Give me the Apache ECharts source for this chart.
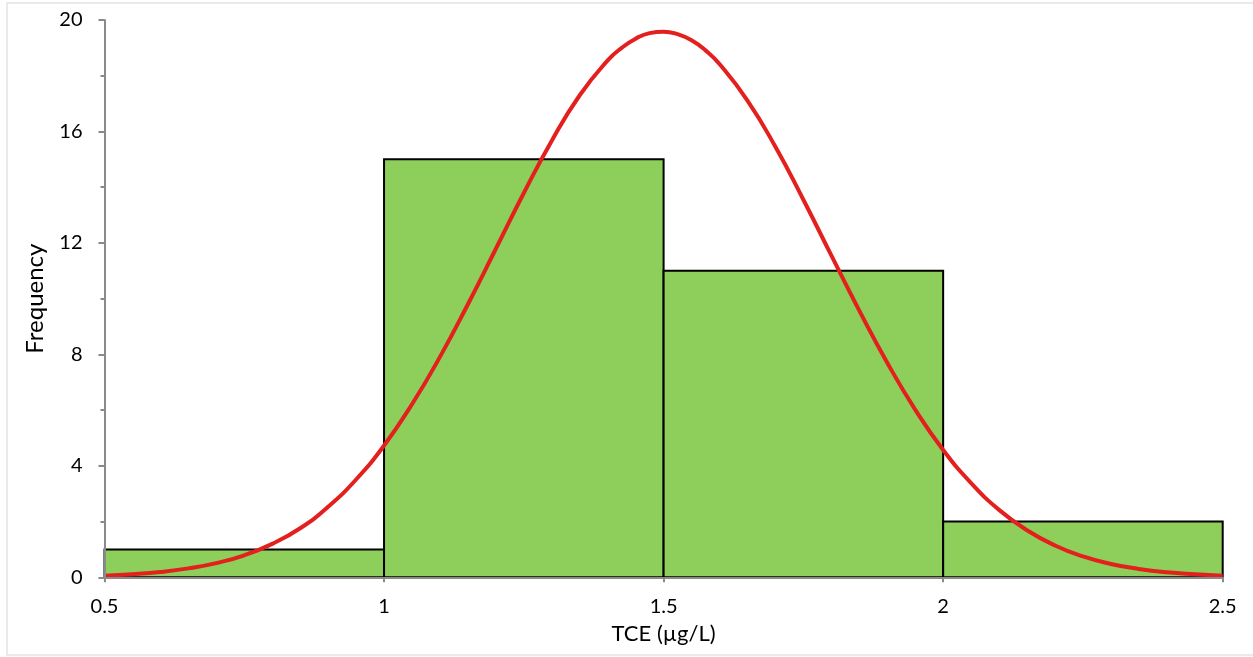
<!DOCTYPE html>
<html>
<head>
<meta charset="utf-8">
<script src="https://cdn.jsdelivr.net/npm/echarts@6/dist/echarts.min.js"></script>
<style>
html,body{margin:0;padding:0;background:#fff;}
#chart{width:1253px;height:657px;}
</style>
</head>
<body>
<div id="chart"></div>
<script>
// Histogram bins (TCE µg/L) and counts
const binStart = [0.5, 1.0, 1.5, 2.0];
const binEnd   = [1.0, 1.5, 2.0, 2.5];
const counts   = [1, 15, 11, 2];

// Fitted normal curve
const curveX = [0.50,0.55,0.60,0.65,0.70,0.75,0.80,0.85,0.90,0.95,1.00,1.05,1.10,1.15,1.20,1.25,1.30,1.35,1.40,1.425,1.45,1.475,1.50,1.525,1.55,1.575,1.60,1.65,1.70,1.75,1.80,1.85,1.90,1.95,2.00,2.05,2.10,2.15,2.20,2.25,2.30,2.35,2.40,2.45,2.50];
const curveY = [0.06,0.11,0.19,0.32,0.51,0.79,1.20,1.76,2.53,3.51,4.73,6.21,7.91,9.80,11.79,13.79,15.67,17.30,18.55,19.00,19.33,19.53,19.58,19.49,19.27,18.91,18.42,17.11,15.45,13.55,11.55,9.57,7.70,6.02,4.57,3.38,2.42,1.69,1.14,0.75,0.48,0.30,0.18,0.11,0.06];

// Axis ticks
const xTicks = [0.5, 1, 1.5, 2, 2.5];
const yTicks = [0, 4, 8, 12, 16, 20];

const barData = counts.map((c, i) => [binStart[i], binEnd[i], c]);
const lineData = curveX.map((x, i) => [x, curveY[i]]);

const FONT = 'Lato';
const chart = echarts.init(document.getElementById('chart'), null, {renderer: 'canvas'});
chart.setOption({
  animation: false,
  backgroundColor: '#ffffff',
  graphic: [{
    type: 'rect',
    shape: {x: 7, y: 3, width: 1250, height: 652},
    style: {fill: 'none', stroke: '#e3e3e3', lineWidth: 1.5},
    z: -1
  }],
  grid: {left: 104.5, right: 30.3, top: 20, bottom: 79.7, containLabel: false},
  xAxis: {
    type: 'value',
    min: xTicks[0], max: xTicks[xTicks.length - 1], interval: 0.5,
    z: 5,
    name: 'TCE (µg/L)',
    nameLocation: 'middle',
    nameGap: 46,
    nameTextStyle: {fontFamily: FONT, fontSize: 22, color: '#000'},
    axisLine: {show: true, onZero: false, lineStyle: {color: '#8a8a8a', width: 2}},
    axisTick: {show: true, length: 5, lineStyle: {color: '#8a8a8a', width: 2}},
    axisLabel: {fontFamily: FONT, fontSize: 20, color: '#000', margin: 19,
      formatter: v => String(v)},
    splitLine: {show: false}
  },
  yAxis: {
    type: 'value',
    min: yTicks[0], max: yTicks[yTicks.length - 1], interval: 4,
    z: 5,
    name: 'Frequency',
    nameLocation: 'middle',
    nameGap: 57,
    nameRotate: 90,
    nameTextStyle: {fontFamily: FONT, fontSize: 24, color: '#000'},
    axisLine: {show: true, lineStyle: {color: '#8a8a8a', width: 2}},
    axisTick: {show: true, length: 6, lineStyle: {color: '#8a8a8a', width: 2}},
    minorTick: {show: true, splitNumber: 2, length: 4, lineStyle: {color: '#8a8a8a', width: 2}},
    axisLabel: {fontFamily: FONT, fontSize: 20, color: '#000', margin: 22},
    splitLine: {show: false}
  },
  series: [{
    type: 'custom',
    z: 2,
    data: barData,
    encode: {x: [0, 1], y: 2},
    renderItem: function (params, api) {
      const p0 = api.coord([api.value(0), api.value(2)]);
      const p1 = api.coord([api.value(1), 0]);
      return {
        type: 'rect',
        shape: {x: p0[0], y: p0[1], width: p1[0] - p0[0], height: p1[1] - p0[1]},
        style: {fill: '#8ece5a', stroke: '#000000', lineWidth: 2}
      };
    }
  }, {
    type: 'line',
    z: 3,
    data: lineData,
    smooth: 0.5,
    showSymbol: false,
    lineStyle: {color: '#e3201e', width: 4}
  }]
});
</script>
</body>
</html>
